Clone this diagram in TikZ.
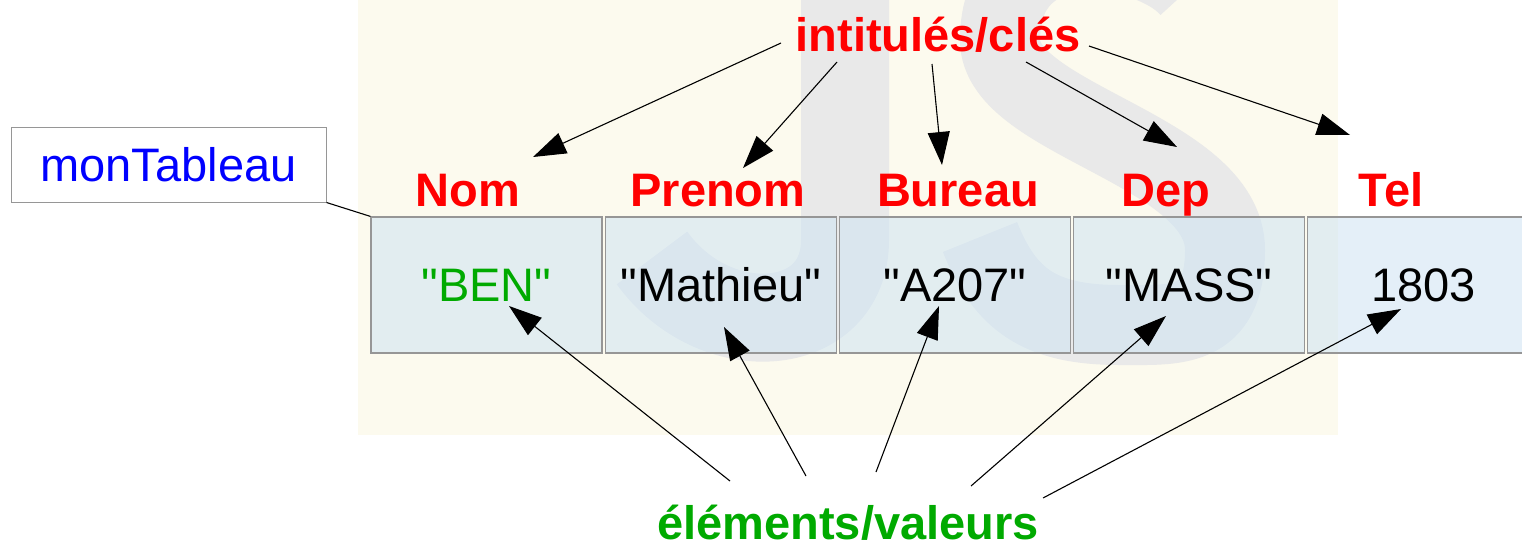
\documentclass[tikz,border=0pt]{standalone}
\usepackage{fontspec}
\setmainfont{Liberation Sans}
\usetikzlibrary{arrows.meta}

\definecolor{cream}{RGB}{252,250,238}
\definecolor{logogray}{RGB}{233,233,233}
\definecolor{cellblue}{RGB}{207,228,243}
\definecolor{keyred}{RGB}{255,0,0}
\definecolor{valgreen}{RGB}{0,170,0}
\definecolor{varblue}{RGB}{0,0,255}
\definecolor{edgegray}{RGB}{150,150,150}

\newcommand{\qq}[1]{\textquotedbl#1\textquotedbl}

\begin{document}
\begin{tikzpicture}[x=1pt,y=-1pt,
  bigfont/.style={font=\fontsize{47}{56}\selectfont},
  keylabel/.style={font=\fontsize{47}{56}\selectfont\bfseries,
    text=keyred, anchor=base, inner sep=0pt},
  cell/.style={draw=edgegray, line width=1.2pt, fill=cellblue,
    fill opacity=0.56, text opacity=1, minimum width=231pt,
    minimum height=136pt, inner sep=0pt, bigfont,
    text height=33.6pt, text depth=0pt},
  arr/.style={-{Triangle[length=33pt,width=22pt]}, line width=1.1pt},
  logostroke/.style={draw=logogray}
]
\useasboundingbox (0,0) rectangle (1522,547);
\fill[white] (0,0) rectangle (1522,547);

% cream panel with the faded JS logo
\begin{scope}
  \clip (358,-10) rectangle (1338,435);
  \fill[cream] (358,-10) rectangle (1338,435);
  \draw[logostroke, line width=88pt]
    (845,-80) -- (845,240) .. controls (845,335) and (715,345) .. (652,258);
  \draw[logostroke, line width=80pt]
    (1190,-12) .. controls (1150,-58) and (1000,-80) .. (1000,40)
    .. controls (1000,120) and (1225,150) .. (1225,250)
    .. controls (1225,330) and (1175,325) .. (1120,325)
    .. controls (1040,325) and (1005,300) .. (980,237);
\end{scope}

% array cells with their values
\node[cell, text=valgreen] (c1) at (486.5,285) {\qq{BEN}};
\node[cell] (c2) at (720.7,285) {\qq{Mathieu}};
\node[cell] (c3) at (954.9,285) {\qq{A207}};
\node[cell] (c4) at (1189.1,285) {\qq{MASS}};
\node[cell] (c5) at (1423.3,285) {1803};

% keys above the cells
\node[keylabel] (hnom) at (468,206) {Nom};
\node[keylabel] (hprenom) at (718,206) {Prenom};
\node[keylabel] (hbureau) at (958,206) {Bureau};
\node[keylabel] (hdep) at (1166,206) {Dep};
\node[keylabel] (htel) at (1391,206) {Tel};

% variable name
\node[draw=edgegray, line width=1pt, fill=white, minimum width=315pt,
  minimum height=75pt, inner sep=0pt, bigfont, text=varblue,
  text height=33.6pt, text depth=0pt] (tab) at (168.5,164.5) {monTableau};
\draw[line width=1.1pt] (tab.south east) -- (c1.north west);

% captions
\node[keylabel] (cles) at (938,51) {intitulés/clés};
\node[keylabel, text=valgreen] (vals) at (848,539) {éléments/valeurs};

% arrow end points
\coordinate (k1) at (781,43);   \coordinate (t1) at (533,157);
\coordinate (k2) at (837,62);   \coordinate (t2) at (743,168);
\coordinate (k3) at (932,64);   \coordinate (t3) at (942,165);
\coordinate (k4) at (1026,62);  \coordinate (t4) at (1177,147);
\coordinate (k5) at (1089,46);  \coordinate (t5) at (1350,135);

\coordinate (v1) at (730,481);  \coordinate (u1) at (509,306);
\coordinate (v2) at (806,476);  \coordinate (u2) at (724,327);
\coordinate (v3) at (876,472);  \coordinate (u3) at (939,306);
\coordinate (v4) at (971,486);  \coordinate (u4) at (1166,316);
\coordinate (v5) at (1043,498); \coordinate (u5) at (1401,309);

\foreach \i in {1,...,5} {
  \draw[arr] (k\i) -- (t\i);
  \draw[arr] (v\i) -- (u\i);
}
\end{tikzpicture}
\end{document}
